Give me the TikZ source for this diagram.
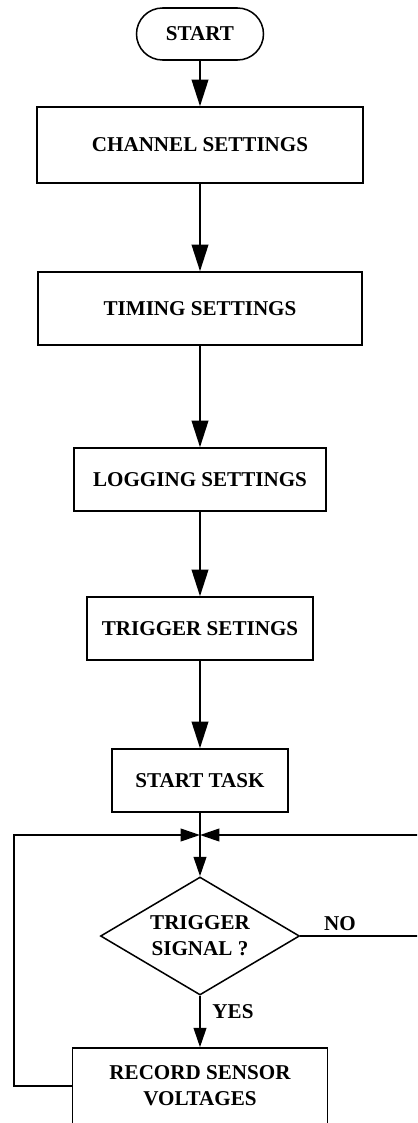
\documentclass[tikz,border=0pt]{standalone}
\usepackage{fontspec}
\setmainfont{Liberation Serif}
\usetikzlibrary{arrows.meta,shapes.geometric}

\begin{document}
\begin{tikzpicture}[x=0.03cm,y=-0.03cm,
    font=\fontsize{18}{22}\selectfont\bfseries,
    box/.style={draw,line width=1.3pt,rectangle,align=center,inner sep=0pt},
    term/.style={draw,line width=1.3pt,rectangle,rounded corners=0.78cm,inner sep=0pt},
    decision/.style={draw,line width=1.3pt,diamond,align=center,inner sep=0pt,shape aspect=1.69},
    bigarr/.style={line width=1.6pt,-{Triangle[length=0.8cm,width=0.5cm]}},
    smallarr/.style={line width=1.6pt,-{Triangle[length=0.58cm,width=0.38cm]}},
    flow/.style={line width=1.6pt}]

    \clip (0,0) rectangle (417,1123);

    % nodes (steps)
    \node[term,minimum width=3.81cm,minimum height=1.56cm] (start) at (200,34) {START};
    \node[box,minimum width=9.78cm,minimum height=2.28cm] (channel) at (200,145) {CHANNEL SETTINGS};
    \node[box,minimum width=9.72cm,minimum height=2.19cm] (timing) at (200,308.5) {TIMING SETTINGS};
    \node[box,minimum width=7.56cm,minimum height=1.89cm] (logging) at (200,479.5) {LOGGING SETTINGS};
    \node[box,minimum width=6.78cm,minimum height=1.89cm] (trigset) at (200,628.5) {TRIGGER SETINGS};
    \node[box,minimum width=5.28cm,minimum height=1.89cm] (task) at (200,780.5) {START TASK};
    \node[decision,minimum width=5.97cm,minimum height=3.54cm] (trig) at (200,936) {TRIGGER\\SIGNAL ?};
    \node[box,minimum width=7.65cm,minimum height=2.28cm] (record) at (200,1086) {RECORD SENSOR\\VOLTAGES};

    % junction and loop corners
    \coordinate (join) at (200,835);
    \coordinate (leftc) at (14,835);
    \coordinate (rightc) at (425,936);

    % labels
    \node (no) at (340,924) {NO};
    \node (yes) at (233,1012) {YES};

    % edges
    \draw[bigarr] (start) -- (channel);
    \draw[bigarr] (channel) -- (timing);
    \draw[bigarr] (timing) -- (logging);
    \draw[bigarr] (logging) -- (trigset);
    \draw[bigarr] (trigset) -- (task);
    \draw[flow] (task) -- (join);
    \draw[smallarr] (join) -- (trig);
    \draw[smallarr] (trig) -- (record);
    \draw[smallarr] (record.west) -| (leftc) -- (join); % loop back
    \draw[smallarr] (trig.east) -- (rightc) |- (join); % NO
\end{tikzpicture}
\end{document}
